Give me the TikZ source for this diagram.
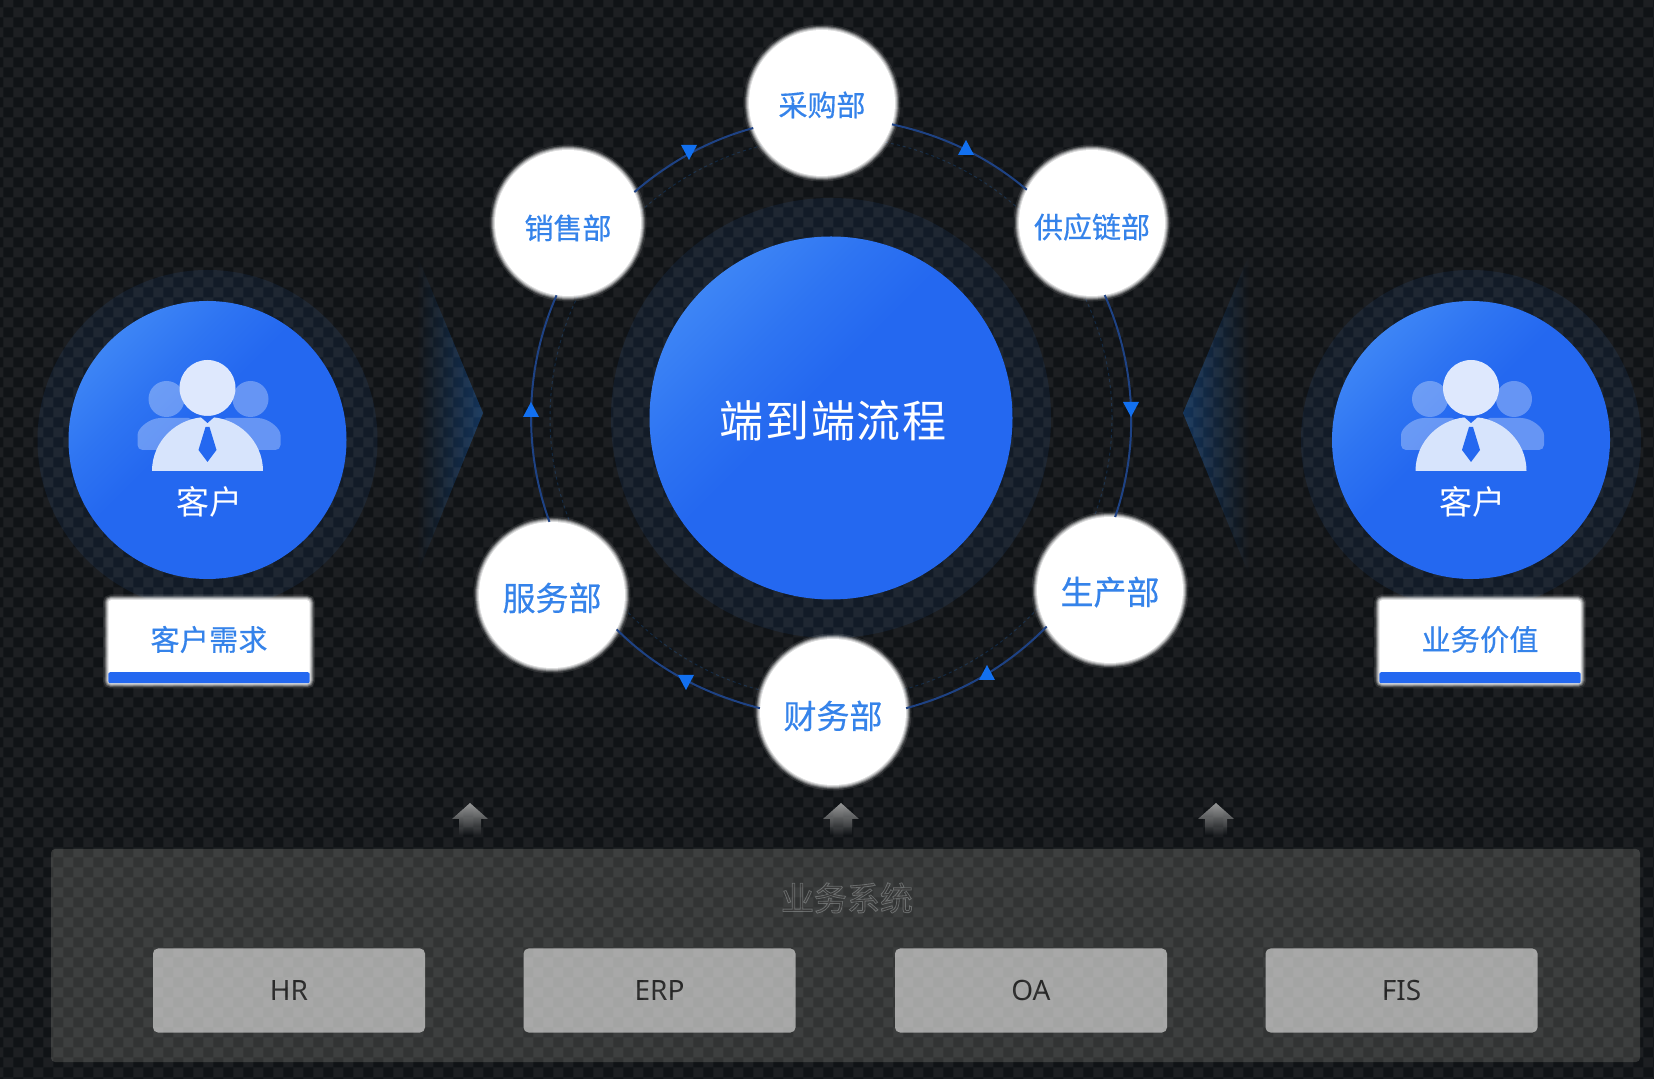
\documentclass[tikz,border=0pt]{standalone}
\usepackage{fontspec}
\setmainfont{Noto Sans CJK SC}
\newfontfamily\latinf{Noto Sans}
\newfontfamily\cjkb[FakeBold=0.5]{Noto Sans CJK SC}
\usetikzlibrary{fadings}
\tikzfading[name=fadeToRight,left color=transparent!0,middle color=transparent!60,right color=transparent!100]
\tikzfading[name=fadeToLeft,left color=transparent!100,middle color=transparent!60,right color=transparent!0]
\tikzfading[name=fadeToBottom,top color=transparent!0,middle color=transparent!10,bottom color=transparent!100]
\definecolor{bgdark}{HTML}{101316}
\definecolor{haloc}{HTML}{121B27}
\definecolor{panelc}{HTML}{323434}
\definecolor{sysbox}{HTML}{A3A4A3}
\definecolor{blueA}{HTML}{4088F6}
\definecolor{blueM}{HTML}{2E74F2}
\definecolor{blueS}{HTML}{2468F0}
\definecolor{labelblue}{HTML}{3583EA}
\definecolor{ringc}{HTML}{1E4284}
\definecolor{tric}{HTML}{1270F0}
\definecolor{arrowc}{HTML}{979898}
\definecolor{chevc}{HTML}{14345A}
\pgfdeclareverticalshading{discshade}{100bp}{color(0bp)=(blueS); color(54bp)=(blueS); color(64bp)=(blueM); color(77bp)=(blueA); color(100bp)=(blueA)}
\newcommand\fs[1]{\fontsize{#1}{#1}\selectfont}
% sets text of size #2 with its centre #1 pt below the centre of its node
\newcommand\dropped[3]{\raisebox{\dimexpr-#1pt-#2pt*38/100\relax}[0pt][0pt]{\fs{#2}#3}}
\tikzset{
  softglow/.style={
    preaction={draw=white,draw opacity=.10,line width=11pt},
    preaction={draw=white,draw opacity=.20,line width=8pt},
    preaction={draw=white,draw opacity=.30,line width=6pt},
    preaction={draw=white,draw opacity=.40,line width=4pt},
    preaction={draw=white,draw opacity=.50,line width=2pt}},
  dept/.style={circle,fill=white,softglow,minimum size=146pt,inner sep=0pt,text=labelblue},
  bluedisc/.style={circle,inner sep=0pt,shade,shading=discshade,shading angle=45},
  valuebox/.style={rectangle,rounded corners=3pt,fill=white,softglow,minimum width=201pt,minimum height=83pt,inner sep=0pt,text=labelblue},
  sysnode/.style={rectangle,rounded corners=5pt,fill=sysbox,minimum width=272pt,minimum height=84pt,inner sep=0pt,text=black!85},
  ringline/.style={draw=ringc,line width=2pt,looseness=.88},
  tiup/.pic={\fill[tric] (-8,-7) -- (8,-7) -- (0,8) -- cycle;},
  tidn/.pic={\fill[tric] (-8,7) -- (8,7) -- (0,-8) -- cycle;},
  upshaft/.pic={\fill[arrowc,path fading=fadeToBottom] (0,15) -- (18,-1) -- (11,-1) -- (11,-17) -- (-11,-17) -- (-11,-1) -- (-18,-1) -- cycle;},
  person/.pic={
    \fill[white,fill opacity=.30] (-41,41) circle (18) (43,41) circle (18);
    \fill[white,fill opacity=.30,rounded corners=5pt] (-70,-10) -- (-70,0) arc[start angle=180,end angle=90,x radius=28,y radius=22] -- (-14,22) -- (-14,-10) -- cycle;
    \fill[white,fill opacity=.30,rounded corners=5pt] (73,-10) -- (73,0) arc[start angle=0,end angle=90,x radius=28,y radius=22] -- (14,22) -- (14,-10) -- cycle;
    \fill[white!85!blueS] (0,52) circle (28);
    \fill[white!82!blueS] (-55.5,-31) arc[start angle=180,end angle=0,x radius=55.5,y radius=54] -- cycle;
    \fill[blueS] (-8,24) -- (0,17) -- (8,24) -- cycle;
    \fill[blueS] (-2,13) -- (2,13) -- (9,-10) -- (0,-22) -- (-9,-10) -- cycle;
  }
}
\begin{document}
\begin{tikzpicture}[x=1pt,y=1pt]
\useasboundingbox (0,0) rectangle (1654,1079);
\fill[bgdark] (0,0) rectangle (1654,1079);
% halos, chevrons, panel and system boxes lie under the checker
\coordinate (C) at (831,{1079-418});
\fill[haloc] (C) circle (220);
\fill[haloc] (207.5,{1079-440}) circle (170);
\fill[haloc] (1471,{1079-440}) circle (170);
\draw[draw=chevc!60!bgdark,line width=1pt,dashed] (C) circle (281);
\fill[chevc,path fading=fadeToLeft] (483,{1079-413}) -- (417,{1079-255}) -- (417,{1079-575}) -- cycle;
\fill[chevc,path fading=fadeToRight] (1183,{1079-413}) -- (1249,{1079-255}) -- (1249,{1079-575}) -- cycle;
\fill[panelc,rounded corners=4pt] (51,{1079-1062}) rectangle (1640,{1079-849});
\node[sysnode] (hr) at (289,{1079-990.5}) {\latinf\fs{28}HR};
\node[sysnode] (erp) at (659.5,{1079-990.5}) {\latinf\fs{28}ERP};
\node[sysnode] (oa) at (1031,{1079-990.5}) {\latinf\fs{28}OA};
\node[sysnode] (fis) at (1401.5,{1079-990.5}) {\latinf\fs{28}FIS};
\node[text=black!78] (systitle) at (847,{1079-898}) {\fs{33}\special{pdf:code q 2 Tr 0.8 w 0.40 0.41 0.41 RG}业务系统\special{pdf:code Q}};
% checker overlay
\fill[white,fill opacity=.055,even odd rule]
  foreach \i in {0,...,82} {({\i*20+3.3},0) rectangle ++(10,1079)}
  foreach \j in {0,...,53} {(0,{1079-7.3-\j*20}) rectangle ++(1654,-10)};
% up arrows
\pic at (470,{1079-818}) {upshaft};
\pic at (841,{1079-818}) {upshaft};
\pic at (1216,{1079-818}) {upshaft};
% blue discs
\node[bluedisc,minimum size=363pt,text=white] (mainflow) at (C) {\hspace*{4pt}\dropped{3}{44}{\addfontfeature{LetterSpace=4}端到端流程}};
\node[bluedisc,minimum size=278pt] (custL) at (207.5,{1079-440}) {};
\node[bluedisc,minimum size=278pt] (custR) at (1471,{1079-440}) {};
\pic at (custL) {person};
\pic at (custR) {person};
\node[text=white] (custLt) at (209,{1079-502}) {\fs{33}客户};
\node[text=white] (custRt) at (1472,{1079-502}) {\fs{33}客户};
% departments
\node[dept] (cg) at (822,{1079-103}) {\dropped{2}{29}{\cjkb 采购部}};
\node[dept] (xs) at (568,{1079-223}) {\dropped{5}{29}{\cjkb 销售部}};
\node[dept] (gy) at (1092,{1079-223}) {\dropped{4}{29}{\cjkb 供应链部}};
\node[dept] (sc) at (1110,{1079-590}) {\dropped{2}{33}{\cjkb 生产部}};
\node[dept] (cw) at (833,{1079-712}) {\dropped{4}{33}{\cjkb 财务部}};
\node[dept] (fw) at (552,{1079-595}) {\dropped{3}{33}{\cjkb 服务部}};
% ring connectors
\draw[ringline] (xs.25.8) to[out=40.6,in=195.3] (cg.200);
\draw[ringline] (cg.343.2) to[out=-12.1,in=139.7] (gy.153.2);
\draw[ringline] (gy.280.3) to[out=-66.1,in=71] (sc.86.4);
\draw[ringline] (sc.210.3) to[out=-134.4,in=14.9] (cw.3.1);
\draw[ringline] (cw.177.7) to[out=165.9,in=-45.1] (fw.332.3);
\draw[ringline] (fw.92.4) to[out=109.9,in=246.2] (xs.261.2);
\pic at (531,{1079-410}) {tiup};
\pic at (689,{1079-152}) {tidn};
\pic at (966,{1079-148}) {tiup};
\pic at (1131,{1079-409}) {tidn};
\pic at (987,{1079-673}) {tiup};
\pic at (686,{1079-682}) {tidn};
% value boxes
\node[valuebox] (need) at (209,{1079-641.5}) {\dropped{-2}{29}{\cjkb\addfontfeature{LetterSpace=1}客户需求}};
\node[valuebox] (value) at (1480,{1079-641.5}) {\dropped{-2}{29}{\cjkb\addfontfeature{LetterSpace=1}业务价值}};
\fill[blueS,rounded corners=2pt] (need.south west) rectangle ([yshift=11pt]need.south east);
\fill[blueS,rounded corners=2pt] (value.south west) rectangle ([yshift=11pt]value.south east);
\end{tikzpicture}
\end{document}
